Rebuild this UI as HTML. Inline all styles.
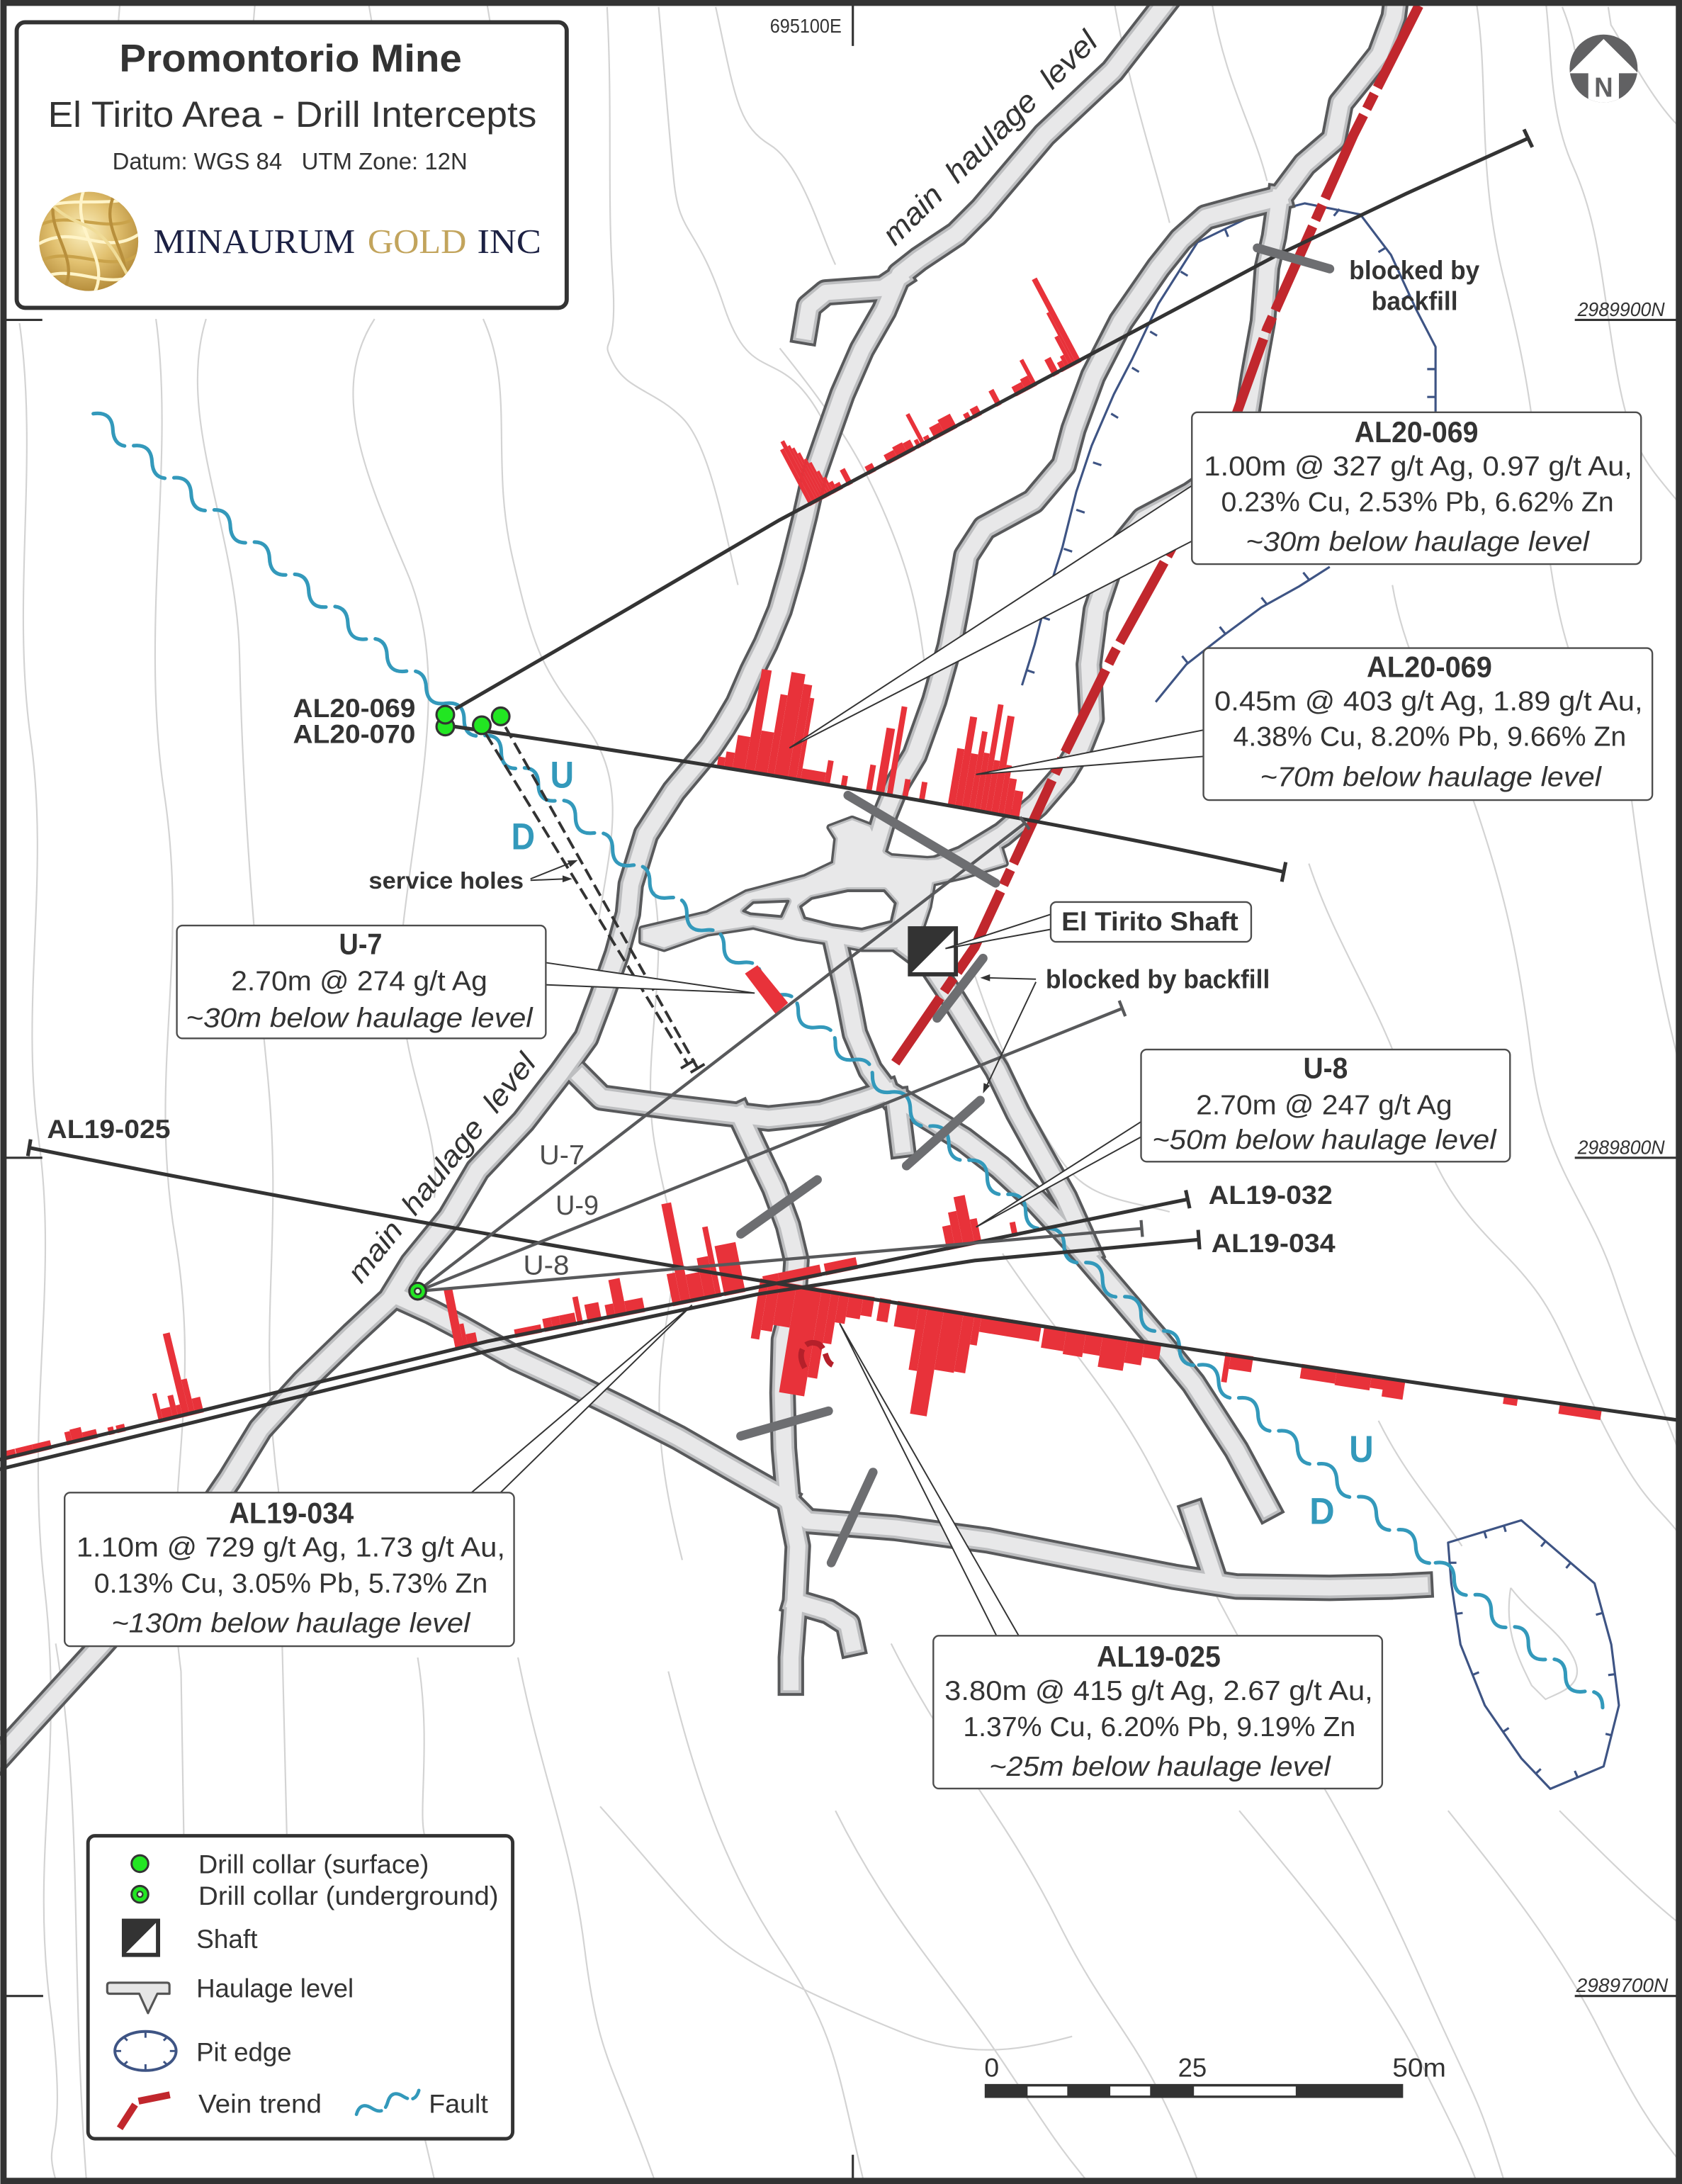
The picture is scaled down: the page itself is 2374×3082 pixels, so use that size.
<!DOCTYPE html>
<html><head><meta charset="utf-8"><title>Promontorio Mine - El Tirito Area</title>
<style>html,body{margin:0;padding:0;background:#fff;}svg{display:block;}</style></head>
<body>
<svg xmlns="http://www.w3.org/2000/svg" width="2374" height="3082" viewBox="0 0 1208 1568" preserveAspectRatio="none" font-family="'Liberation Sans', Arial, sans-serif">
<defs>
<radialGradient id="gold" cx="45%" cy="40%" r="65%"><stop offset="0" stop-color="#fbf0c0"/><stop offset="0.5" stop-color="#e2c170"/><stop offset="1" stop-color="#b08634"/></radialGradient>
<clipPath id="logoClip"><circle cx="63.7" cy="173.3" r="35.6"/></clipPath>
<clipPath id="nClip"><circle cx="1151.7" cy="49.2" r="24.4"/></clipPath>
<path id="t1" d="M848,-12 L799,51 L750,97 L705,150 L687,168 L660,186 L646,197 L635,223 L619,251 L605,283 L594,314 L585,340 L578,371 L569,407 L560,438 L550,462 L540,482 L530,505 L520,522 L510,537 L484,568 L464,599 L453,635 L451,656 L443,685 L432,716 L421,745 L403,770 L376,805 L343,840 L323,874 L296,907 L280,933 L253,958 L218,992 L187,1026 L165,1062 L120,1128 L72,1182 L8,1252 L-12,1274"/>
<path id="hook" d="M646,199 L634,207 L593,210 L581,220 L578,238"/>
<path id="t2" d="M1004,-12 L1001,12 L991,39 L976,58 L963,74 L958,100 L937,118 L919,142"/>
<path id="t3" d="M919,142 L895,148 L866,156 L848,172 L832,192 L805,231 L785,270 L771,308 L764,334 L742,360 L707,379 L694,399 L689,428 L682,464 L671,503 L657,542 L645,562 L636,584 L630,604"/>
<path id="t4" d="M919,142 L915,170 L910,192 L907,231 L900,270 L894,308 L885,334 L855,355 L821,373 L800,399 L787,438 L782,477 L784,516 L776,536 L764,556 L745,578 L720,599 L692,616 L666,626"/>
<path id="td" d="M600,676 L609,716 L614,742 L625,768 L637,784"/>
<path id="tlc" d="M418,774 L432,788 L484,795 L552,803 L590,799 L620,790 L637,784"/>
<path id="ts1" d="M637,784 L666,802 L692,818 L718,838 L744,862 L770,890 L800,925 L830,960 L857,993 L888,1041 L910,1082"/>
<path id="ts2" d="M652,680 L668,692 L684,716 L700,742 L716,768 L731,799 L747,828 L765,860 L782,898"/>
<path id="tstub" d="M644,790 L648,822"/>
<path id="tv" d="M531,800 L545,830 L556,853 L566,880 L572,905 L570,935 L563,962 L562,1000 L563,1040 L566,1075 L573,1110 L571,1150 L568,1190 L568,1208"/>
<path id="tc1" d="M288,932 L310,942 L331,953 L370,975 L409,993 L448,1012 L487,1032 L527,1055 L564,1076"/>
<path id="te" d="M564,1076 L580,1092 L643,1097 L710,1106 L776,1119 L843,1132 L888,1139 L955,1140 L1000,1139 L1020,1138"/>
<path id="testub" d="M872,1132 L857,1087"/>
<path id="tvhook" d="M571,1150 L595,1157 L609,1166 L612,1180"/>
<path id="blob" d="M461,667 L508,656 L536,641 L578,630 L599,620 L601,602 L596,594 L612,588 L625,593 L635,612 L640,615 L666,617 L692,615 L716,601 L722,620 L692,629 L670,634 L667,651 L661,669 L648,681 L619,681 L593,676 L573,673 L541,665 L508,670 L477,681 L461,676 Z"/>
<clipPath id="cH4a"><path d="M-10,1050 L350,963 L545,924 L853,861 L853,760 L-10,760 Z"/></clipPath>
</defs>

<rect x="0" y="0" width="1208" height="1568" fill="#fff"/>

<!-- contours -->
<g fill="none" stroke="#d3d3d3" stroke-width="1.1">
<path d="M86,4 L85,16 M183,4 L182,16 M265,4 L267,16 M350,4 L352,16"/>
<path d="M14,232 C28,330 8,430 22,530 S14,720 28,820 S18,1020 32,1140 S22,1330 36,1440 S30,1530 40,1565"/>
<path d="M112,229 C126,330 100,450 118,570 S106,770 126,890 S114,1080 130,1200 L132,1318"/>
<path d="M148,229 C126,300 170,380 172,470 S180,650 192,770 S184,950 200,1070 L206,1318"/>
<path d="M269,229 C236,280 262,340 292,410 S302,560 290,660 S318,800 312,860"/>
<path d="M347,229 C370,280 352,330 368,400 S390,480 420,520 S440,600 430,660"/>
<path d="M436,5 C440,80 436,140 440,200 S430,240 440,260 S470,280 490,300 S520,380 530,420"/>
<path d="M473,5 C478,60 480,90 484,130 S500,160 520,220 S560,245 590,300"/>
<path d="M514,5 C528,70 530,90 553,104 S590,170 600,190"/>
<path d="M40,1180 C60,1300 50,1400 62,1565"/>
<path d="M300,1190 C310,1250 300,1300 305,1318 M305,1535 L312,1565"/>
<path d="M372,1190 C390,1280 410,1320 420,1400 S440,1480 470,1565"/>
<path d="M431,1297 C470,1340 500,1380 524,1398 S600,1440 650,1460 S740,1470 770,1462"/>
<path d="M560,250 C600,300 620,330 640,380 S660,450 670,520"/>
<path d="M800,0 C810,60 830,120 840,160"/>
<path d="M870,0 C880,60 900,90 910,130"/>
<path d="M1060,0 C1070,60 1060,120 1080,200 S1100,300 1110,380 S1130,480 1150,520"/>
<path d="M1110,0 C1115,40 1112,80 1130,120 S1150,200 1160,260 S1180,330 1205,360"/>
<path d="M1122,5 C1128,20 1130,30 1131,36"/>
<path d="M1155,5 L1157,18 C1165,30 1185,70 1205,90"/>
<path d="M1000,420 C1010,480 1040,520 1060,580 S1090,680 1100,760 S1140,860 1160,920 S1190,1000 1205,1040"/>
<path d="M940,620 C960,680 990,720 1010,780 S1040,860 1080,900 S1120,960 1150,1020 S1190,1080 1205,1100"/>
<path d="M720,900 C760,960 800,1000 830,1060 S880,1160 920,1230 S980,1330 1020,1420 S1060,1500 1080,1565"/>
<path d="M640,1180 C680,1260 720,1300 760,1380 S820,1460 860,1565"/>
<path d="M890,1300 C940,1360 990,1420 1020,1480 S1050,1540 1060,1565"/>
<path d="M1040,1300 C1080,1350 1120,1400 1150,1460 S1190,1530 1205,1550"/>
<path d="M600,1300 C640,1380 680,1420 720,1480 S760,1540 780,1565"/>
<path d="M480,1200 C500,1280 520,1340 560,1400 S600,1480 620,1565"/>
<path d="M470,640 C480,700 460,760 470,820 S490,880 480,940 S470,1040 490,1120"/>
<path d="M700,700 C720,760 740,800 760,830 S800,860 840,870"/>
<path d="M1120,1300 C1150,1330 1180,1360 1205,1380"/>
<path d="M990,1020 C1010,1060 1030,1080 1050,1110"/>
<path d="M1085,1140 C1100,1160 1120,1170 1130,1190 S1120,1215 1110,1220 L1100,1210 C1090,1190 1080,1170 1085,1140"/>
<path d="M1170,560 C1180,640 1190,700 1205,760"/>
<path d="M960,300 C965,330 980,360 1000,390"/>
</g>

<!-- pit edges -->
<g fill="none" stroke="#3e5484" stroke-width="1.6" stroke-linejoin="round">
<path d="M734,492 L743,463 L752,428 L763,393 L773,353 L784,320 L800,283 L813,258 L832,218 L860,174 L897,156 L937,146 L977,154 L999,183 L1017,222 L1031,249 L1031,296"/>
<path d="M737,481 L743,483 M748,443 L754,445 M764,394 L770,396 M773,366 L779,368 M785,332 L791,334 M798,297 L803,300 M813,264 L818,267 M826,238 L831,241 M848,195 L853,198 M880,165 L882,170 M915,150 L917,155 M962,150 L958,155 M995,178 L990,181 M1012,212 L1007,215 M1031,265 L1025,265 M1031,285 L1025,285"/>
<path d="M955,407 L933,421 L906,436 L879,456 L852,477 L830,504"/>
<path d="M940,416 L936,411 M910,434 L906,429 M880,455 L876,450 M853,476 L849,471"/>
<path d="M1040,1107.5 L1092.6,1091.5 L1145.2,1136.8 L1157.2,1180.6 L1162.7,1224.4 L1151.7,1268.2 L1113.4,1284.3 L1092.6,1262.4 L1066.4,1224.4 L1048.9,1180.6 L1042.3,1136.8 Z"/>
<path d="M1066,1099.6 L1067.5,1104.4 M1080,1095 L1081.4,1099.8 M1110,1106.5 L1106.8,1110.3 M1128,1122 L1124.8,1125.8 M1151,1158 L1146.2,1159.3 M1160,1202 L1155,1202.6 M1158,1246 L1153.1,1244.8 M1133,1276 L1131,1271.4 M1103,1273.4 L1106.6,1270 M1079.5,1243.4 L1083.6,1240.6 M1057.6,1202.5 L1062.2,1200.6 M1045.6,1158.7 L1050.5,1158 M1041,1122 L1046,1122"/>
</g>

<!-- tunnels -->
<g fill="none" stroke-linejoin="round">
<g stroke="#58595b" stroke-width="19" stroke-linecap="square">
<use href="#t1"/><use href="#hook"/><use href="#t2"/><use href="#t3"/><use href="#t4"/><use href="#td"/><use href="#tlc"/><use href="#ts1"/><use href="#ts2"/><use href="#tstub"/><use href="#tv"/><use href="#tc1"/><use href="#te"/><use href="#testub"/><use href="#tvhook"/>
</g>
<use href="#blob" fill="#58595b" stroke="#58595b" stroke-width="5"/>
<g stroke="#bdbec0" stroke-width="15" stroke-linecap="square">
<use href="#t1"/><use href="#hook"/><use href="#t2"/><use href="#t3"/><use href="#t4"/><use href="#td"/><use href="#tlc"/><use href="#ts1"/><use href="#ts2"/><use href="#tstub"/><use href="#tv"/><use href="#tc1"/><use href="#te"/><use href="#testub"/><use href="#tvhook"/>
</g>
<use href="#blob" fill="#e8e8e9" stroke="#bdbec0" stroke-width="1.5"/>
<g stroke="#e8e8e9" stroke-width="11" stroke-linecap="square">
<use href="#t1"/><use href="#hook"/><use href="#t2"/><use href="#t3"/><use href="#t4"/><use href="#td"/><use href="#tlc"/><use href="#ts1"/><use href="#ts2"/><use href="#tstub"/><use href="#tv"/><use href="#tc1"/><use href="#te"/><use href="#testub"/><use href="#tvhook"/>
</g>
<path d="M534,654 L541,648 L566,647 L561,658 L539,656 Z" fill="#fff" stroke="#bdbec0" stroke-width="5"/>
<path d="M534,654 L541,648 L566,647 L561,658 L539,656 Z" fill="#fff" stroke="#58595b" stroke-width="2"/>
<path d="M575,651 L583,645 L609,639.5 L635,639.5 L643,648.5 L640,661.5 L619,667 L598,664 L578,659 Z" fill="#fff" stroke="#bdbec0" stroke-width="5"/>
<path d="M575,651 L583,645 L609,639.5 L635,639.5 L643,648.5 L640,661.5 L619,667 L598,664 L578,659 Z" fill="#fff" stroke="#58595b" stroke-width="2"/>
</g>

<!-- fault -->
<g fill="none" stroke="#3399bb" stroke-width="2.6" stroke-dasharray="37 6.5" stroke-linecap="round">
<path transform="translate(67,297) rotate(39.4)" d="M0,0 q9.1,-10 18.2,0 t18.2,0 t18.2,0 t18.2,0 t18.2,0 t18.2,0 t18.2,0 t18.2,0 t18.2,0 t18.2,0 t18.2,0 t18.2,0 t18.2,0 t18.2,0 t18.2,0 t18.2,0 t18.2,0 t18.2,0"/>
<path transform="translate(320,505) rotate(41.1)" d="M0,0 q8.85,-10 17.69,0 t17.69,0 t17.69,0 t17.69,0 t17.69,0 t17.69,0 t17.69,0 t17.69,0 t17.69,0 t17.69,0 t17.69,0 t17.69,0 t17.69,0 t17.69,0 t17.69,0 t17.69,0 t17.69,0 t17.69,0 t17.69,0 t17.69,0 t17.69,0 t17.69,0 t17.69,0 t17.69,0"/>
<path transform="translate(640,784) rotate(41.6)" d="M0,0 q9.23,-10 18.46,0 t18.46,0 t18.46,0 t18.46,0 t18.46,0 t18.46,0 t18.46,0 t18.46,0 t18.46,0 t18.46,0 t18.46,0 t18.46,0 t18.46,0 t18.46,0 t18.46,0 t18.46,0"/>
<path transform="translate(861,980) rotate(39.9)" d="M0,0 q9.23,-10 18.46,0 t18.46,0 t18.46,0 t18.46,0 t18.46,0 t18.46,0 t18.46,0 t18.46,0 t18.46,0 t18.46,0 t18.46,0 t18.46,0"/>
<path transform="translate(1031,1122) rotate(40.9)" d="M0,0 q8.82,-10 17.64,0 t17.64,0 t17.64,0 t17.64,0 t17.64,0 t17.64,0 t17.64,0 t17.64,0 t17.64,0"/>
</g>

<!-- vein trend -->
<path d="M1019,4 L972,97 L910,236 L882,314 L855,368 L837,402 L800,469 L764,542 L732,611 L700,680 L643,763" fill="none" stroke="#c1272d" stroke-width="7" stroke-dasharray="66 5 12 5"/>

<!-- histograms -->
<g fill="#e8323a">
<g transform="translate(559.7,373.4) rotate(-28)">
<rect x="24" y="-44" width="3" height="45.5"/><rect x="27" y="-49" width="3" height="50.5"/><rect x="30" y="-44" width="2" height="45.5"/><rect x="32" y="-41" width="2" height="42.5"/><rect x="34" y="-36" width="2" height="37.5"/><rect x="36" y="-30" width="2" height="31.5"/><rect x="38" y="-26" width="2" height="27.5"/><rect x="40" y="-18" width="2" height="19.5"/><rect x="42" y="-12" width="2" height="13.5"/><rect x="44" y="-7" width="3" height="8.5"/><rect x="47" y="-4" width="4" height="5.5"/>
<rect x="55" y="-11" width="4" height="12.5"/><rect x="72" y="-5" width="6" height="6.5"/>
<rect x="88" y="-6" width="8" height="7.5"/><rect x="96" y="-8" width="8" height="9.5"/><rect x="104" y="-7" width="6" height="8.5"/><rect x="112" y="-5" width="3" height="6.5"/><rect x="115.5" y="-24" width="3" height="25.5"/><rect x="119" y="-4" width="4" height="5.5"/>
<rect x="126" y="-8" width="8" height="9.5"/><rect x="134" y="-10" width="10" height="11.5"/><rect x="152" y="-5" width="4" height="6.5"/><rect x="158" y="-6" width="6" height="7.5"/><rect x="176" y="-11" width="4" height="12.5"/>
<rect x="192" y="-6" width="8" height="7.5"/><rect x="200" y="-8" width="6" height="9.5"/><rect x="206" y="-20" width="3" height="21.5"/><rect x="222" y="-12" width="5" height="13.5"/>
<rect x="229" y="-6" width="4" height="7.5"/><rect x="233" y="-9" width="3" height="10.5"/><rect x="236" y="-23" width="3" height="24.5"/><rect x="239" y="-41" width="2" height="42.5"/><rect x="241" y="-67" width="4" height="68.5"/>
</g>
<g transform="translate(520,550.3) rotate(9.6)">
<rect x="-5.1" y="-6.5" width="5.1" height="8"/><rect x="0" y="-11" width="6.1" height="12.5"/><rect x="6.1" y="-24" width="9.1" height="25.5"/><rect x="15.2" y="-73.6" width="7.1" height="75"/><rect x="22.3" y="-30" width="9.1" height="31.5"/><rect x="31.4" y="-58" width="5.1" height="59.5"/><rect x="36.5" y="-75" width="10.1" height="76.5"/><rect x="46.6" y="-68" width="6.1" height="69.5"/><rect x="52.7" y="-59" width="3.1" height="60.5"/><rect x="55.8" y="-8" width="17.2" height="9.5"/><rect x="73" y="-17" width="4" height="18.5"/><rect x="85" y="-8" width="4" height="9.5"/><rect x="103.4" y="-19" width="4.1" height="20.5"/><rect x="110.5" y="-47" width="6.1" height="48.5"/><rect x="118.6" y="-64" width="4.1" height="65.5"/><rect x="129.8" y="-13" width="4" height="14.5"/><rect x="142" y="-13" width="4" height="14.5"/>
<rect x="163" y="-41" width="5.3" height="42.5"/><rect x="168.3" y="-65" width="5.1" height="66.5"/><rect x="173.4" y="-39" width="5.1" height="40.5"/><rect x="178.5" y="-56" width="4" height="57.5"/><rect x="182.5" y="-41" width="4.1" height="42.5"/><rect x="186.6" y="-77" width="4" height="78.5"/><rect x="190.6" y="-37" width="4.1" height="38.5"/><rect x="194.7" y="-70" width="5.1" height="71.5"/><rect x="199.8" y="-35" width="4" height="36.5"/><rect x="203.8" y="-26" width="5.1" height="27.5"/><rect x="208.9" y="-18" width="6.1" height="19.5"/>
</g>
<g transform="translate(546,919.3) rotate(9.3)">
<rect x="0" y="-1.5" width="6.1" height="43.5"/><rect x="6.1" y="-1.5" width="8.1" height="36.5"/><rect x="14.2" y="-1.5" width="12.1" height="31.5"/><rect x="26.3" y="-1.5" width="18.3" height="78.5"/><rect x="44.6" y="-1.5" width="7.1" height="64.5"/><rect x="51.7" y="-1.5" width="6" height="38.5"/><rect x="57.7" y="-1.5" width="7.1" height="22.5"/><rect x="64.8" y="-1.5" width="10.2" height="17.5"/><rect x="75" y="-1.5" width="8" height="14.5"/><rect x="87" y="-1.5" width="8" height="16.5"/><rect x="100" y="-1.5" width="15.5" height="18.5"/><rect x="115.5" y="-1.5" width="6.1" height="47.5"/><rect x="121.6" y="-1.5" width="12.1" height="78.5"/><rect x="133.7" y="-1.5" width="14.2" height="44.5"/><rect x="147.9" y="-1.5" width="8.1" height="43.5"/><rect x="156" y="-1.5" width="5" height="22.5"/><rect x="161" y="-1.5" width="43.6" height="12.5"/><rect x="206.7" y="-1.5" width="16.2" height="16.5"/><rect x="222.9" y="-1.5" width="14.1" height="18.5"/><rect x="237" y="-1.5" width="12.2" height="15.5"/><rect x="249.2" y="-1.5" width="18.2" height="23.5"/><rect x="267.4" y="-1.5" width="12.2" height="17.5"/><rect x="279.6" y="-1.5" width="12.1" height="11.5"/>
</g>
<g transform="translate(839,966) rotate(8.7)">
<rect x="41.5" y="-1.5" width="4" height="21.5"/><rect x="45.5" y="-1.5" width="16.2" height="11.5"/><rect x="97" y="-1.5" width="25.4" height="10.5"/><rect x="122.4" y="-1.5" width="25.3" height="11.5"/><rect x="147.7" y="-1.5" width="15.2" height="9.5"/><rect x="157" y="-1.5" width="15.2" height="14.5"/><rect x="243.9" y="-1.5" width="10.1" height="6.5"/><rect x="284.4" y="-1.5" width="30.4" height="7.5"/>
</g>
<g transform="translate(0,1047.8) rotate(-13.6)">
<rect x="4" y="-5" width="8" height="6.5"/><rect x="12.3" y="-5" width="12.4" height="6.5"/><rect x="24.7" y="-5" width="13.4" height="6.5"/><rect x="49.4" y="-8" width="4.1" height="9.5"/><rect x="53.5" y="-9" width="8.2" height="10.5"/><rect x="61.7" y="-5" width="10.3" height="6.5"/><rect x="80.3" y="-4" width="4.1" height="5.5"/><rect x="86.4" y="-4" width="6.2" height="5.5"/><rect x="117.3" y="-20" width="3.1" height="21.5"/><rect x="120.4" y="-8" width="7.2" height="9.5"/><rect x="127.6" y="-16" width="4.1" height="17.5"/><rect x="131.7" y="-8" width="3.1" height="9.5"/><rect x="134.8" y="-60" width="5.1" height="61.5"/><rect x="139.9" y="-25" width="4.1" height="26.5"/><rect x="144" y="-10" width="6.2" height="11.5"/>
</g>
<g transform="translate(350,963) rotate(-11.3)">
<rect x="-23.5" y="-43" width="6.2" height="44.5"/><rect x="-17.3" y="-16" width="3" height="17.5"/><rect x="-14.3" y="-8" width="7.2" height="9.5"/>
<rect x="20.4" y="-4.5" width="19.4" height="6"/><rect x="41.8" y="-8" width="6.1" height="9.5"/><rect x="47.9" y="-8" width="6.1" height="9.5"/><rect x="54" y="-8" width="11.3" height="9.5"/><rect x="66" y="-19" width="4" height="20.5"/><rect x="73.4" y="-12" width="10.2" height="13.5"/><rect x="87.7" y="-9" width="6.1" height="10.5"/><rect x="93.8" y="-26" width="8.2" height="27.5"/><rect x="102" y="-9" width="13.3" height="10.5"/><rect x="135.7" y="-22" width="6.1" height="23.5"/><rect x="141.8" y="-72" width="7.1" height="73.5"/><rect x="148.9" y="-19" width="10.2" height="20.5"/><rect x="159.1" y="-29" width="8.2" height="30.5"/><rect x="167.3" y="-50" width="4" height="51.5"/><rect x="173.4" y="-35" width="15.3" height="36.5"/>
</g>
<g transform="translate(545,924) rotate(-11.6)">
<rect x="4" y="-7" width="11.3" height="8.5"/><rect x="15.3" y="-7" width="30.6" height="8.5"/><rect x="49" y="-7" width="23.4" height="8.5"/><rect x="137.7" y="-16" width="6.1" height="17.5"/><rect x="143.8" y="-25" width="6.1" height="26.5"/><rect x="149.9" y="-35" width="8.2" height="36.5"/><rect x="158.1" y="-17" width="5.1" height="18.5"/><rect x="185.6" y="-9" width="4.1" height="10.5"/>
</g>
<polygon points="535,699 544,693 566,720 557,728"/>
</g>
<path d="M578,982 C571,970 579,961 588,965 C594,969 592,977 598,980" fill="none" stroke="#b5202a" stroke-width="4" stroke-dasharray="14 4"/>

<!-- drill traces -->
<g fill="none" stroke="#333" stroke-width="2.6" stroke-linecap="butt">
<path d="M327,509 L440,443.5 L559.7,373.4 L740,277.5 L916,183.8 L1010,139 L1097.5,99.3"/>
<path d="M1094.5,92.9 L1100.5,105.7"/>
<path d="M322,521 Q700,576 922,626"/>
<path d="M923.4,619 L920.6,633"/>
<path d="M21,824 Q518,923.6 1208,1020"/>
<path d="M22,818 L20,830"/>
<path d="M-5,1049 L350,963 L545,924 L853,861"/>
<path d="M851.6,854.5 L854.4,867.5"/>
<path d="M-5,1056 L350,970 L545,929 L700,905 L861,890"/>
<path d="M860.5,883 L861.5,897"/>
</g>
<g fill="none" stroke="#58595b" stroke-width="2.2">
<path d="M300,927 L736,591"/><path d="M732.6,586.6 L739.4,595.4"/>
<path d="M300,927 L806,724"/><path d="M803.8,718.4 L808.2,729.6"/>
<path d="M300,927 L820,882"/><path d="M819.5,876 L820.5,888"/>
</g>
<!-- service holes -->
<g fill="none" stroke="#333" stroke-width="2">
<path d="M349,527 L494,764" stroke-dasharray="9 4"/>
<path d="M363,522 L501,767" stroke-dasharray="9 4"/>
<path d="M489,767 L499,761 M496,770 L506,764"/>
</g>

<!-- blocked bars -->
<g stroke="#6d6e71" stroke-width="6.5" stroke-linecap="round" fill="none">
<path d="M903,178 L955,193"/><path d="M609,571 L715,634"/><path d="M673,731 L706,688"/><path d="M651,837 L704,790"/><path d="M532,886 L587,847"/><path d="M532,1031 L595,1013"/><path d="M597,1122 L627,1057"/>
</g>

<!-- shaft -->
<rect x="652" y="665" width="36" height="36" fill="#333"/>
<polygon points="655,698 685,668 685,698" fill="#fff"/>

<!-- collars -->
<g stroke="#333" stroke-width="1.6" fill="#22e622">
<circle cx="319.8" cy="521.6" r="6.3"/><circle cx="319.8" cy="513.1" r="6.3"/>
<circle cx="359.6" cy="514.3" r="6.3"/><circle cx="346" cy="520.7" r="6.3"/>
<circle cx="300" cy="927" r="6"/>
<circle cx="300" cy="927" r="2.2" fill="#d8ffd8" stroke-width="1.2"/>
</g>

<!-- arrows -->
<g stroke="#333" stroke-width="1" fill="none">
<path d="M381,631 L411,619"/><path d="M381,632 L406,631"/>
<path d="M744,703 L709,702"/><path d="M744,705 L708,781"/>
</g>
<g fill="#333">
<polygon points="415,617.5 407.5,617.8 409.5,622.5"/>
<polygon points="411,631 404,628.5 404,633.5"/>
<polygon points="704,702 711,699.5 711,704.5"/>
<polygon points="706,785 706.5,777.5 711,779.5"/>
</g>

<!-- callout wedges -->
<g fill="#fff" stroke="#333" stroke-width="1">
<polygon points="857,348 567,537 857,388" stroke="none"/><path d="M857,348 L567,537 L857,388" fill="none"/>
<polygon points="865,524 701,556 865,543" stroke="none"/><path d="M865,524 L701,556 L865,543" fill="none"/>
<polygon points="391,691 542,713 391,707" stroke="none"/><path d="M391,691 L542,713 L391,707" fill="none"/>
<polygon points="820,805 701,881 820,816" stroke="none"/><path d="M820,805 L701,881 L820,816" fill="none"/>
<polygon points="337,1073 497,937 358,1073" stroke="none"/><path d="M337,1073 L497,937 L358,1073" fill="none"/>
<polygon points="716,1175 603,950 732,1175" stroke="none"/><path d="M716,1175 L603,950 L732,1175" fill="none"/>
<polygon points="756,656 679,681 756,667" stroke="none"/><path d="M756,656 L679,681 L756,667" fill="none"/>
</g>
<g fill="#fff" stroke="#4d4d4d" stroke-width="1.2">
<rect x="856" y="296" width="322.6" height="109" rx="4"/>
<rect x="864.3" y="465.3" width="322.4" height="109.1" rx="4"/>
<rect x="127" y="664.5" width="265" height="81" rx="4"/>
<rect x="819.5" y="753.5" width="265" height="80.5" rx="4"/>
<rect x="46.4" y="1071.6" width="322.8" height="110.3" rx="4"/>
<rect x="670.3" y="1174.4" width="322.4" height="109.7" rx="4"/>
<rect x="754.6" y="647.6" width="144" height="28.6" rx="4"/>
</g>

<!-- callout text -->
<g fill="#333" font-size="20" text-anchor="middle">
<text x="1017.2" y="317.5" font-weight="bold" font-size="21" textLength="89" lengthAdjust="spacingAndGlyphs">AL20-069</text>
<text x="1018.5" y="341.5" textLength="307.7" lengthAdjust="spacingAndGlyphs">1.00m @ 327 g/t Ag, 0.97 g/t Au,</text>
<text x="1018" y="367" textLength="282" lengthAdjust="spacingAndGlyphs">0.23% Cu, 2.53% Pb, 6.62% Zn</text>
<text x="1018" y="395.5" font-style="italic" textLength="246.6" lengthAdjust="spacingAndGlyphs">~30m below haulage level</text>

<text x="1026.6" y="486" font-weight="bold" font-size="21" textLength="90" lengthAdjust="spacingAndGlyphs">AL20-069</text>
<text x="1026" y="510" textLength="307.7" lengthAdjust="spacingAndGlyphs">0.45m @ 403 g/t Ag, 1.89 g/t Au,</text>
<text x="1026.8" y="535.5" textLength="282.3" lengthAdjust="spacingAndGlyphs">4.38% Cu, 8.20% Pb, 9.66% Zn</text>
<text x="1027.5" y="564.5" font-style="italic" textLength="245" lengthAdjust="spacingAndGlyphs">~70m below haulage level</text>

<text x="259" y="685" font-weight="bold" font-size="21" textLength="31" lengthAdjust="spacingAndGlyphs">U-7</text>
<text x="258" y="711" textLength="184" lengthAdjust="spacingAndGlyphs">2.70m @ 274 g/t Ag</text>
<text x="258" y="737.5" font-style="italic" textLength="249" lengthAdjust="spacingAndGlyphs">~30m below haulage level</text>

<text x="952" y="774" font-weight="bold" font-size="21" textLength="32" lengthAdjust="spacingAndGlyphs">U-8</text>
<text x="951" y="800" textLength="184" lengthAdjust="spacingAndGlyphs">2.70m @ 247 g/t Ag</text>
<text x="951" y="825" font-style="italic" textLength="247" lengthAdjust="spacingAndGlyphs">~50m below haulage level</text>

<text x="209.3" y="1093.5" font-weight="bold" font-size="21" textLength="89.5" lengthAdjust="spacingAndGlyphs">AL19-034</text>
<text x="208.8" y="1117.5" textLength="308" lengthAdjust="spacingAndGlyphs">1.10m @ 729 g/t Ag, 1.73 g/t Au,</text>
<text x="208.9" y="1143.5" textLength="282.7" lengthAdjust="spacingAndGlyphs">0.13% Cu, 3.05% Pb, 5.73% Zn</text>
<text x="208.8" y="1172" font-style="italic" textLength="257.5" lengthAdjust="spacingAndGlyphs">~130m below haulage level</text>

<text x="832.2" y="1196.5" font-weight="bold" font-size="21" textLength="89" lengthAdjust="spacingAndGlyphs">AL19-025</text>
<text x="832.2" y="1220.5" textLength="307.7" lengthAdjust="spacingAndGlyphs">3.80m @ 415 g/t Ag, 2.67 g/t Au,</text>
<text x="832.6" y="1246.5" textLength="281.8" lengthAdjust="spacingAndGlyphs">1.37% Cu, 6.20% Pb, 9.19% Zn</text>
<text x="833" y="1275" font-style="italic" textLength="245" lengthAdjust="spacingAndGlyphs">~25m below haulage level</text>
</g>

<!-- labels -->
<g fill="#333" font-weight="bold" font-size="19">
<text x="210.4" y="514.8" textLength="88" lengthAdjust="spacingAndGlyphs">AL20-069</text>
<text x="210.4" y="533.4" textLength="88" lengthAdjust="spacingAndGlyphs">AL20-070</text>
<text x="33.8" y="817" textLength="88.6" lengthAdjust="spacingAndGlyphs">AL19-025</text>
<text x="868" y="864.5" textLength="89" lengthAdjust="spacingAndGlyphs">AL19-032</text>
<text x="870" y="899" textLength="89" lengthAdjust="spacingAndGlyphs">AL19-034</text>
<text x="264.8" y="638" font-size="17" textLength="111.3" lengthAdjust="spacingAndGlyphs">service holes</text>
<text x="969" y="200.5" textLength="93.6" lengthAdjust="spacingAndGlyphs">blocked by</text>
<text x="985" y="222.5" textLength="62" lengthAdjust="spacingAndGlyphs">backfill</text>
<text x="751" y="709.5" textLength="161" lengthAdjust="spacingAndGlyphs">blocked by backfill</text>
<text x="762.3" y="668" textLength="127" lengthAdjust="spacingAndGlyphs">El Tirito Shaft</text>
</g>
<g fill="#4d4d4d" font-size="20">
<text x="387.3" y="836" textLength="32.5" lengthAdjust="spacingAndGlyphs">U-7</text>
<text x="399" y="872" textLength="31" lengthAdjust="spacingAndGlyphs">U-9</text>
<text x="375.8" y="915" textLength="33" lengthAdjust="spacingAndGlyphs">U-8</text>
</g>
<g fill="#3399bb" font-size="27" font-weight="bold">
<text x="395.2" y="565.6" textLength="17" lengthAdjust="spacingAndGlyphs">U</text>
<text x="367.2" y="609.7" textLength="17" lengthAdjust="spacingAndGlyphs">D</text>
<text x="969" y="1049.5" textLength="17.5" lengthAdjust="spacingAndGlyphs">U</text>
<text x="940.5" y="1094" textLength="18" lengthAdjust="spacingAndGlyphs">D</text>
</g>
<g fill="#333" font-style="italic">
<text transform="translate(642.7,177.2) rotate(-44.8)" font-size="22" textLength="207" lengthAdjust="spacingAndGlyphs">main&#160;&#160;haulage&#160;&#160;level</text>
<text transform="translate(259.5,922.3) rotate(-51.5)" font-size="21" textLength="203" lengthAdjust="spacingAndGlyphs">main&#160;&#160;haulage&#160;&#160;level</text>
</g>

<!-- grid ticks -->
<g stroke="#333" stroke-width="1.6">
<path d="M612.5,3 L612.5,33"/><path d="M612.5,1547 L612.5,1565"/>
<path d="M3,229.7 L30.4,229.7"/><path d="M1131,229.7 L1205,229.7"/>
<path d="M3,831.2 L30.4,831.2"/><path d="M1131,831.2 L1205,831.2"/>
<path d="M3,1433 L31,1433"/><path d="M1131,1433 L1205,1433"/>
</g>
<g fill="#333" font-size="14">
<text x="553" y="23.4" textLength="51.4" lengthAdjust="spacingAndGlyphs">695100E</text>
<text x="1133" y="227" font-style="italic" textLength="62.6" lengthAdjust="spacingAndGlyphs">2989900N</text>
<text x="1133" y="828.5" font-style="italic" textLength="62.6" lengthAdjust="spacingAndGlyphs">2989800N</text>
<text x="1132" y="1430" font-style="italic" textLength="66" lengthAdjust="spacingAndGlyphs">2989700N</text>
</g>

<!-- north arrow -->
<circle cx="1151.7" cy="49.2" r="24.4" fill="#616163"/>
<g clip-path="url(#nClip)" fill="#fff">
<polygon points="1151.7,28 1176.5,52.6 1127,52.6"/>
<rect x="1140.7" y="52" width="22" height="25"/>
</g>
<text x="1151.7" y="69.5" text-anchor="middle" font-weight="bold" font-size="20" fill="#616163" textLength="13.5" lengthAdjust="spacingAndGlyphs">N</text>

<!-- title box -->
<rect x="12" y="16" width="395" height="205" rx="6" fill="#fff" stroke="#333" stroke-width="3"/>
<g fill="#333" text-anchor="middle">
<text x="208.7" y="51.4" font-size="28" font-weight="bold" textLength="246" lengthAdjust="spacingAndGlyphs">Promontorio Mine</text>
<text x="209.9" y="91" font-size="26" textLength="351" lengthAdjust="spacingAndGlyphs">El Tirito Area - Drill Intercepts</text>
<text x="208.2" y="121.5" font-size="17" textLength="255" lengthAdjust="spacingAndGlyphs">Datum: WGS 84&#160;&#160; UTM Zone: 12N</text>
</g>
<circle cx="63.7" cy="173.3" r="35.6" fill="url(#gold)"/>
<g clip-path="url(#logoClip)" fill="none" stroke-width="2.2">
<path d="M28,150 C50,140 80,150 100,140" stroke="#fff4c8"/>
<path d="M28,162 C50,150 80,170 100,155" stroke="#c9a24a"/>
<path d="M28,175 C55,160 75,185 100,168" stroke="#fff4c8"/>
<path d="M28,188 C50,175 80,198 100,182" stroke="#c9a24a"/>
<path d="M28,200 C55,188 75,210 100,196" stroke="#fff4c8"/>
<path d="M40,140 C30,165 60,185 45,210" stroke="#b88f3c"/>
<path d="M60,137 C50,165 80,185 68,210" stroke="#fff4c8"/>
<path d="M82,140 C70,165 98,185 88,208" stroke="#b88f3c"/>
<path d="M35,145 C60,170 70,150 95,205" stroke="#f0dc98"/>
</g>
<g font-family="'Liberation Serif', 'Times New Roman', serif" font-size="25">
<text x="110.2" y="181.7" fill="#1c2143" textLength="144.8" lengthAdjust="spacingAndGlyphs">MINAURUM</text>
<text x="264" y="181.7" fill="#c2a45c" textLength="71" lengthAdjust="spacingAndGlyphs">GOLD</text>
<text x="342.7" y="181.7" fill="#1c2143" textLength="46" lengthAdjust="spacingAndGlyphs">INC</text>
</g>

<!-- legend -->
<rect x="63.2" y="1318" width="305" height="217.5" rx="5" fill="#fff" stroke="#333" stroke-width="2.5"/>
<g stroke="#333" stroke-width="1.5" fill="#22e622">
<circle cx="100.5" cy="1338" r="6"/>
<circle cx="100.5" cy="1360" r="6"/>
<circle cx="100.5" cy="1360" r="2" fill="#d8ffd8" stroke-width="1.1"/>
</g>
<rect x="87.5" y="1377.5" width="27.5" height="27.5" fill="#333"/>
<polygon points="90.5,1402 112,1380.5 112,1402" fill="#fff"/>
<path d="M79,1423.5 L120,1423.5 Q121.7,1423.5 121.7,1425.5 L121.7,1431.4 L113,1431.4 L106.3,1445.3 L100,1431.4 L79,1431.4 Q77,1431.4 77,1429.4 L77,1425.5 Q77,1423.5 79,1423.5 Z" fill="#e6e6e6" stroke="#555" stroke-width="1.6" stroke-linejoin="round"/>
<ellipse cx="104.5" cy="1472.5" rx="22" ry="14" fill="none" stroke="#3e5484" stroke-width="2"/>
<path d="M104.5,1458.5 L104.5,1463 M104.5,1486.5 L104.5,1482 M82.5,1472.5 L87,1472.5 M126.5,1472.5 L122,1472.5 M89,1462.6 L91.5,1465 M120,1462.6 L117.5,1465 M89,1482.4 L91.5,1480 M120,1482.4 L117.5,1480" stroke="#3e5484" stroke-width="1.5"/>
<path d="M86,1528 L97,1511 M99.5,1508.5 L122,1504" stroke="#c1272d" stroke-width="5" fill="none"/>
<path transform="translate(256,1518) rotate(-21)" d="M0,0 q6,-8 12,0 t12,0 t12,0 t12,0" fill="none" stroke="#3399bb" stroke-width="2.4" stroke-dasharray="22 4" stroke-linecap="round"/>
<g fill="#333" font-size="19">
<text x="142.5" y="1345" textLength="165.5" lengthAdjust="spacingAndGlyphs">Drill collar (surface)</text>
<text x="142.5" y="1367.5" textLength="215.5" lengthAdjust="spacingAndGlyphs">Drill collar (underground)</text>
<text x="141" y="1398.6" textLength="44" lengthAdjust="spacingAndGlyphs">Shaft</text>
<text x="141" y="1434" textLength="113" lengthAdjust="spacingAndGlyphs">Haulage level</text>
<text x="141" y="1479.8" textLength="68.5" lengthAdjust="spacingAndGlyphs">Pit edge</text>
<text x="142.5" y="1517" textLength="88.5" lengthAdjust="spacingAndGlyphs">Vein trend</text>
<text x="308" y="1517" textLength="42.5" lengthAdjust="spacingAndGlyphs">Fault</text>
</g>

<!-- scale bar -->
<rect x="707.2" y="1496.2" width="300.5" height="10" fill="#333"/>
<g fill="#fff"><rect x="738" y="1498" width="28.5" height="6.5"/><rect x="797.4" y="1498" width="28.6" height="6.5"/><rect x="857.5" y="1498" width="73.1" height="6.5"/></g>
<g fill="#333" font-size="19">
<text x="707" y="1491">0</text>
<text x="846" y="1491" textLength="20.7" lengthAdjust="spacingAndGlyphs">25</text>
<text x="1000" y="1491" textLength="38.5" lengthAdjust="spacingAndGlyphs">50m</text>
</g>

<!-- frame -->
<rect x="2.5" y="2" width="1203.3" height="1563.8" fill="none" stroke="#333" stroke-width="4.5"/>
</svg>
</body></html>
